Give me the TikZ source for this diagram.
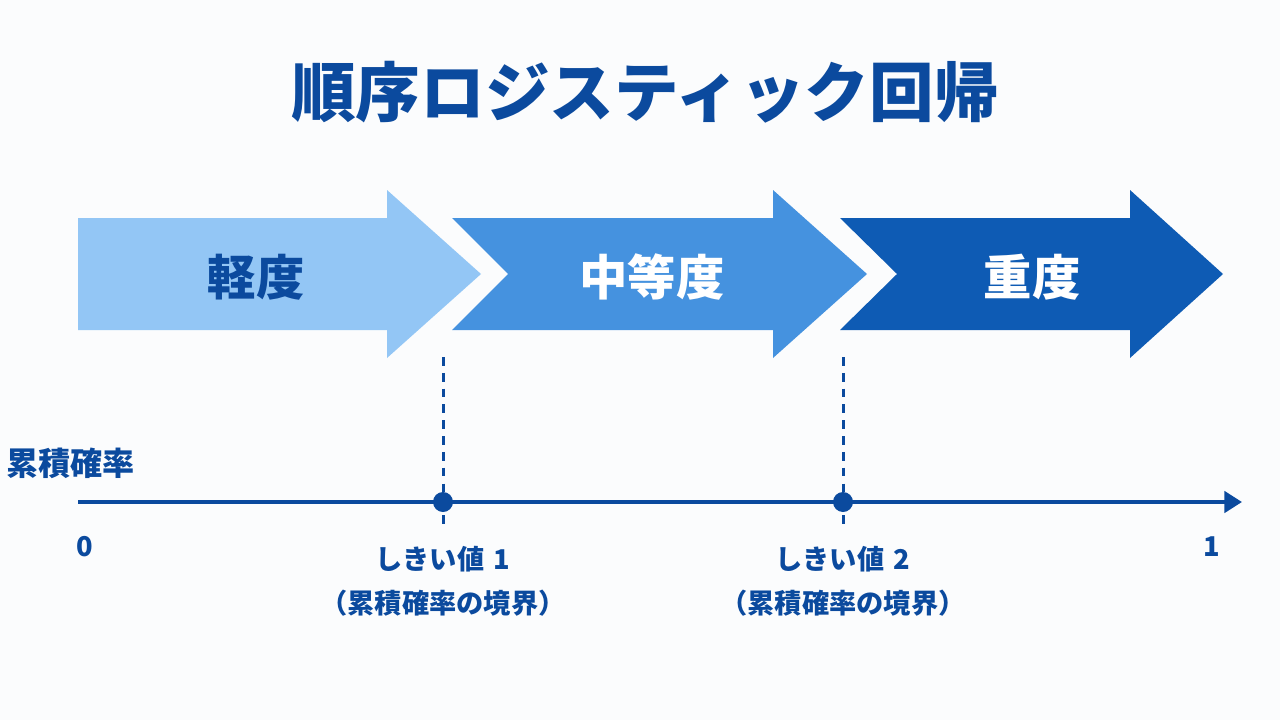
\documentclass[tikz,border=0pt]{standalone}
\usepackage{fontspec}
\setmainfont{Noto Sans CJK JP}
\usetikzlibrary{arrows.meta}
\definecolor{navy}{HTML}{0B4A9E}
\definecolor{cone}{HTML}{93C6F5}
\definecolor{ctwo}{HTML}{4592DF}
\definecolor{cthree}{HTML}{0E5BB4}
\definecolor{bgc}{HTML}{FBFCFD}
\begin{document}
\begin{tikzpicture}[x=0.02cm,y=-0.02cm,
  titlefont/.style={font=\bfseries\fontsize{36.8}{40}\selectfont, text=navy},
  arrowlab/.style={font=\bfseries\fontsize{27.5}{30}\selectfont},
  smalllab/.style={font=\bfseries\fontsize{15.5}{25}\selectfont, text=navy},
  dashline/.style={draw=navy, line width=1.7pt, dash pattern=on 5pt off 4pt},
  axisline/.style={draw=navy, line width=2.3pt, -{Triangle[length=10pt,width=12pt]}},
  dotnode/.style={circle, fill=navy, inner sep=0pt, minimum size=0.4cm}]
\useasboundingbox[fill=bgc] (0,0) rectangle (1280,720);
\node[titlefont] (title) at (645,92) {順序ロジスティック回帰};
% arrows
\fill[cone] (78,218) -- (387,218) -- (387,190) -- (481,274) -- (387,358) -- (387,330) -- (78,330) -- cycle;
\fill[ctwo] (452,218) -- (773,218) -- (773,190) -- (867,274) -- (773,358) -- (773,330) -- (452,330) -- (508,274) -- cycle;
\fill[cthree] (840,218) -- (1130,218) -- (1130,190) -- (1223,274) -- (1130,358) -- (1130,330) -- (840,330) -- (897,274) -- cycle;
\node[arrowlab, text=navy] (mild) at (256,277) {軽度};
\node[arrowlab, text=white] (moderate) at (652,277) {中等度};
\node[arrowlab, text=white] (severe) at (1032,277) {重度};
% axis
\coordinate (axstart) at (78,502);
\coordinate (axend) at (1242,502);
\draw[axisline] (axstart) -- (axend);
\node[dotnode] (t1) at (443,502) {};
\node[dotnode] (t2) at (843,502) {};
\coordinate (d1top) at (443,357);
\coordinate (d1bot) at (443,527);
\coordinate (d2top) at (843,357);
\coordinate (d2bot) at (843,527);
\draw[dashline] (d1top) -- (d1bot);
\draw[dashline] (d2top) -- (d2bot);
\node[smalllab, anchor=west, font=\bfseries\fontsize{18.3}{20}\selectfont] (axlab) at (0,463) {累積確率};
\node[smalllab] (zero) at (85,547) {0};
\node[smalllab] (one) at (1212,547) {1};
\node[smalllab, align=center] (th1) at (443,581) {しきい値\hspace{0.35em}1\\（累積確率の境界）};
\node[smalllab, align=center] (th2) at (843,581) {しきい値\hspace{0.35em}2\\（累積確率の境界）};
\end{tikzpicture}
\end{document}
